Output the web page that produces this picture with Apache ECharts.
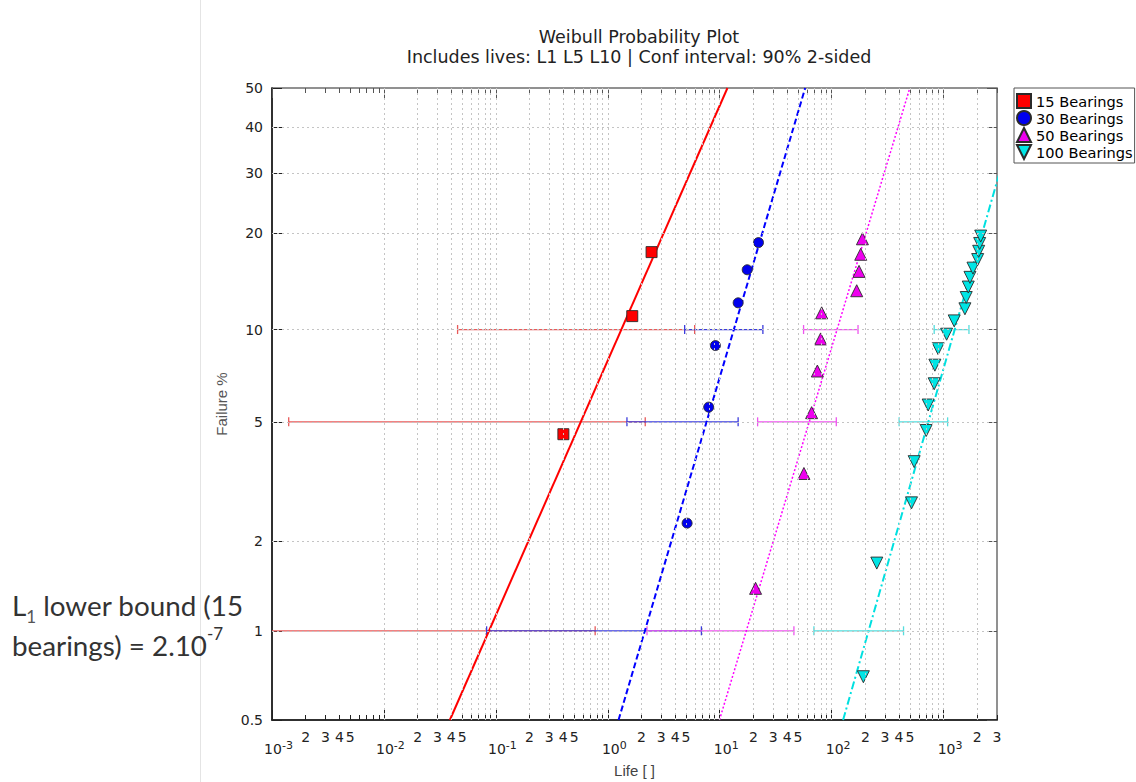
<!DOCTYPE html>
<html>
<head>
<meta charset="utf-8">
<title>Weibull Probability Plot</title>
<script src="https://cdn.jsdelivr.net/npm/echarts@6/dist/echarts.min.js"></script>
<style>
  html, body { margin: 0; padding: 0; background: #ffffff; }
  #chart { width: 1136px; height: 782px; }
</style>
</head>
<body>
<div id="chart"></div>
<script>
// ---- data ---------------------------------------------------------------
const seriesNames = ['15 Bearings', '30 Bearings', '50 Bearings', '100 Bearings'];

// failure lives and their median-rank failure percentages
const life15 = [0.401, 1.654, 2.461];
const rank15 = [4.55, 11.04, 17.53];
const life30 = [5.11, 7.97, 9.15, 14.61, 17.60, 22.20];
const rank30 = [2.30, 5.59, 8.88, 12.17, 15.46, 18.75];
const life50 = [20.9, 56.5, 66.2, 74.5, 79.7, 81.4, 167.4, 175.6, 181.8, 188.3];
const rank50 = [1.39, 3.37, 5.36, 7.34, 9.33, 11.31, 13.29, 15.28, 17.26, 19.25];
const life100 = [192, 253, 517, 546, 699, 728, 824, 836, 894, 1064,
                 1244, 1551, 1593, 1661, 1720, 1830, 2016, 2058, 2101, 2145];
const rank100 = [0.70, 1.69, 2.69, 3.69, 4.68, 5.68, 6.67, 7.67, 8.67, 9.66,
                 10.66, 11.65, 12.65, 13.65, 14.64, 15.64, 16.63, 17.63, 18.63, 19.62];

// Weibull fit lines: life at the two percentages in fitPct
const fitPct = [0.5, 50];
const fit15 = [0.0388, 11.72];
const fit30 = [1.247, 58.0];
const fit50 = [9.94, 499];
const fit100 = [126.5, 5200];

// 90% two-sided confidence bounds on the L1, L5, L10 lives
const lifeLevels = [1, 5, 10];
const ci15 = [[2e-7, 0.771], [0.00141, 2.16], [0.0455, 5.97]];
const ci30 = [[0.0827, 6.86], [1.483, 14.6], [4.86, 24.3]];
const ci50 = [[2.24, 46.0], [21.8, 110], [56.1, 172]];
const ci100 = [[69.4, 438.6], [400.5, 1086], [824, 1685]];

// axis ticks
const yTickPct = [0.5, 1, 2, 5, 10, 20, 30, 40, 50];
const yGridPct = [1, 2, 5, 10, 20, 30, 40];
const xMin = 0.001, xMax = 3000;
const xDecades = [-3, -2, -1, 0, 1, 2, 3];
const xMinorDigits = [2, 3, 4, 5, 6, 7, 8, 9];
const xLabelDigits = [2, 3, 4, 5];

// ---- helpers ------------------------------------------------------------
const weib = p => Math.log(-Math.log(1 - p / 100));
const yMin = weib(0.5), yMax = weib(50);
const clean = v => Number(v.toPrecision(6));

const xMajor = xDecades.map(e => clean(Math.pow(10, e)));
const xMinor = [];
const xLabelVals = [];
xDecades.forEach(e => {
  xLabelVals.push(clean(Math.pow(10, e)));
  xMinorDigits.forEach(d => {
    const v = clean(d * Math.pow(10, e));
    if (v <= xMax) xMinor.push(v);
  });
  xLabelDigits.forEach(d => {
    const v = clean(d * Math.pow(10, e));
    if (v <= xMax) xLabelVals.push(v);
  });
});
const xGrid = xMajor.concat(xMinor).filter(v => v > xMin && v < xMax);

function xLabel(v) {
  const e = Math.floor(Math.log10(v) + 1e-9);
  const m = Math.round(v / Math.pow(10, e));
  if (m === 1) {
    return '{gap| }\n{base|10}{sup|' + (e < 0 ? '-' + (-e) : String(e)) + '}';
  }
  return '{minor|' + m + '}';
}

function yLabel(w) {
  const p = (1 - Math.exp(-Math.exp(w))) * 100;
  return String(Math.round(p * 10) / 10);
}

const colors = {
  mark: ['#ff0000', '#0000ee', '#ee00ee', '#00e5e5'],
  line: ['#ff0000', '#0000ff', '#ff00ff', '#00e0e0'],
  bar:  ['#e85a5a', '#3c3cdc', '#ee55ee', '#55dddd']
};

const lifeSets = [life15, life30, life50, life100];
const rankSets = [rank15, rank30, rank50, rank100];
const fitSets = [fit15, fit30, fit50, fit100];
const ciSets = [ci15, ci30, ci50, ci100];
const symbols = ['rect', 'circle', 'triangle', 'triangle'];
const symbolSizes = [11, 10, 12, 12];
const lineTypes = ['solid', [6, 3], [2, 2], [8, 3, 2, 3]];
const lineWidths = [2, 2, 1.5, 2];

// ---- series -------------------------------------------------------------
const series = [];

// dotted background grid
series.push({
  name: 'grid', type: 'line', data: [], z: 1, silent: true,
  markLine: {
    silent: true, symbol: ['none', 'none'], animation: false,
    label: { show: false },
    lineStyle: { color: '#c4c4c4', width: 1, type: [2, 3] },
    data: xGrid.map(v => ({ xAxis: v })).concat(yGridPct.map(p => ({ yAxis: weib(p) })))
  }
});

// confidence bounds
ciSets.forEach((ci, k) => {
  series.push({
    name: seriesNames[k] + ' bounds', type: 'custom', z: 2, clip: true, silent: true,
    encode: { x: [0, 1], y: 2 },
    data: ci.map((r, i) => [r[0], r[1], weib(lifeLevels[i])]),
    renderItem: function (params, api) {
      const y = api.value(2);
      const a = api.coord([api.value(0), y]);
      const b = api.coord([api.value(1), y]);
      const h = 4.5;
      const st = { stroke: colors.bar[k], lineWidth: 1.3 };
      return {
        type: 'group',
        children: [
          { type: 'line', shape: { x1: a[0], y1: a[1], x2: b[0], y2: b[1] }, style: st },
          { type: 'line', shape: { x1: a[0], y1: a[1] - h, x2: a[0], y2: a[1] + h }, style: st },
          { type: 'line', shape: { x1: b[0], y1: b[1] - h, x2: b[0], y2: b[1] + h }, style: st }
        ]
      };
    }
  });
});

// Weibull fit lines
fitSets.forEach((f, k) => {
  series.push({
    name: seriesNames[k] + ' fit', type: 'line', z: 3, silent: true,
    symbol: 'none', clip: true,
    data: f.map((x, i) => [x, weib(fitPct[i])]),
    lineStyle: { color: colors.line[k], width: lineWidths[k], type: lineTypes[k] }
  });
});

// failure points
lifeSets.forEach((lives, k) => {
  series.push({
    name: seriesNames[k], type: 'scatter', z: 4,
    symbol: symbols[k], symbolSize: symbolSizes[k],
    symbolRotate: k === 3 ? 180 : 0,
    data: lives.map((x, i) => [x, weib(rankSets[k][i])]),
    itemStyle: { color: colors.mark[k], borderColor: '#2a2a2a', borderWidth: 0.9, opacity: 1 }
  });
});

// ---- axes ---------------------------------------------------------------
const tickFont = 'DejaVu Sans';
function xAxisDef(pos, values, len, withLabels, lineShow) {
  return {
    type: 'log', logBase: 10, min: xMin, max: xMax, position: pos, gridIndex: 0,
    axisLine: { show: lineShow, onZero: false, lineStyle: { color: '#111', width: 1.5 } },
    axisTick: { show: true, inside: true, length: len, customValues: values,
                lineStyle: { color: pos === 'bottom' ? '#222' : '#555', width: 1 } },
    splitLine: { show: false },
    minorTick: { show: false },
    axisLabel: withLabels ? {
      show: true, margin: 8, customValues: xLabelVals, formatter: xLabel,
      color: '#222', fontFamily: tickFont,
      rich: {
        gap: { fontSize: 1, lineHeight: 12 },
        base: { fontSize: 14, lineHeight: 18, fontFamily: tickFont, color: '#222', padding: [0, 0, 0, 13] },
        sup: { fontSize: 11, lineHeight: 10, verticalAlign: 'top', fontFamily: tickFont, color: '#222' },
        minor: { fontSize: 14, lineHeight: 18, fontFamily: tickFont, color: '#222' }
      }
    } : { show: false },
    name: withLabels ? 'Life [ ]' : '',
    nameLocation: 'middle', nameGap: 43,
    nameTextStyle: { fontFamily: 'Liberation Sans', fontSize: 15, color: '#444' }
  };
}

const option = {
  animation: false,
  backgroundColor: '#ffffff',
  title: {
    text: 'Weibull Probability Plot',
    subtext: 'Includes lives: L1 L5 L10 | Conf interval: 90% 2-sided',
    left: 634, top: 22, textAlign: 'center', itemGap: 0,
    textStyle: { fontFamily: 'DejaVu Sans', fontSize: 17.5, fontWeight: 'normal', color: '#222', lineHeight: 20 },
    subtextStyle: { fontFamily: 'DejaVu Sans', fontSize: 17.5, color: '#222', lineHeight: 20 }
  },
  legend: {
    orient: 'vertical', left: 1014, top: 88,
    data: [
      { name: seriesNames[0], icon: 'rect' },
      { name: seriesNames[1], icon: 'circle' },
      { name: seriesNames[2], icon: 'triangle' },
      { name: seriesNames[3], icon: 'path://M0,0L10,0L5,10Z' }
    ],
    itemWidth: 14, itemHeight: 14, itemGap: 1,
    selectedMode: false,
    textStyle: { fontFamily: 'DejaVu Sans', fontSize: 14.6, color: '#000', lineHeight: 15 },
    borderColor: '#555', borderWidth: 1, padding: [5, 2, 3, 2], backgroundColor: '#fff'
  },
  grid: {
    left: 272, right: 139, top: 88, bottom: 62,
    outerBoundsMode: 'none', containLabel: false,
    show: true, borderColor: '#6e6e6e', borderWidth: 1.5, backgroundColor: '#fff'
  },
  xAxis: [
    xAxisDef('bottom', xMajor, 10, true, true),
    xAxisDef('bottom', xMinor, 5, false, false),
    xAxisDef('top', xMajor, 10, false, false),
    xAxisDef('top', xMinor, 5, false, false)
  ],
  yAxis: [
    {
      type: 'value', min: yMin, max: yMax, position: 'left',
      axisLine: { show: true, onZero: false, lineStyle: { color: '#111', width: 1.5 } },
      axisTick: { show: true, inside: true, length: 10, customValues: yTickPct.map(weib),
                  lineStyle: { color: '#222', width: 1 } },
      axisLabel: { show: true, margin: 9, customValues: yTickPct.map(weib), formatter: yLabel,
                   fontFamily: tickFont, fontSize: 14, color: '#222' },
      splitLine: { show: false },
      name: 'Failure %', nameLocation: 'middle', nameGap: 43, nameRotate: 90,
      nameTextStyle: { fontFamily: 'Liberation Sans', fontSize: 15, color: '#555' }
    },
    {
      type: 'value', min: yMin, max: yMax, position: 'right',
      axisLine: { show: false },
      axisTick: { show: true, inside: true, length: 10, customValues: yTickPct.map(weib),
                  lineStyle: { color: '#555', width: 1 } },
      axisLabel: { show: false },
      splitLine: { show: false }
    }
  ],
  graphic: [
    {
      type: 'line', silent: true,
      shape: { x1: 200.5, y1: 0, x2: 200.5, y2: 782 },
      style: { stroke: '#e4e4e4', lineWidth: 1 }
    },
    {
      type: 'text', left: 12, top: 591, silent: true,
      style: {
        text: '{a|L}{s|1}{a| lower bound (15}\n{a|bearings) = 2.10}{p|-7}',
        fill: '#333',
        rich: {
          a: { fontFamily: 'Lato', fontSize: 27.8, lineHeight: 40, fill: '#333' },
          s: { fontFamily: 'Lato', fontSize: 17, lineHeight: 25, verticalAlign: 'bottom', fill: '#555' },
          p: { fontFamily: 'Lato', fontSize: 17, lineHeight: 25, verticalAlign: 'top', fill: '#333' }
        }
      }
    }
  ],
  series: series
};

const chart = echarts.init(document.getElementById('chart'), null, { renderer: 'svg' });
chart.setOption(option);
</script>
</body>
</html>
